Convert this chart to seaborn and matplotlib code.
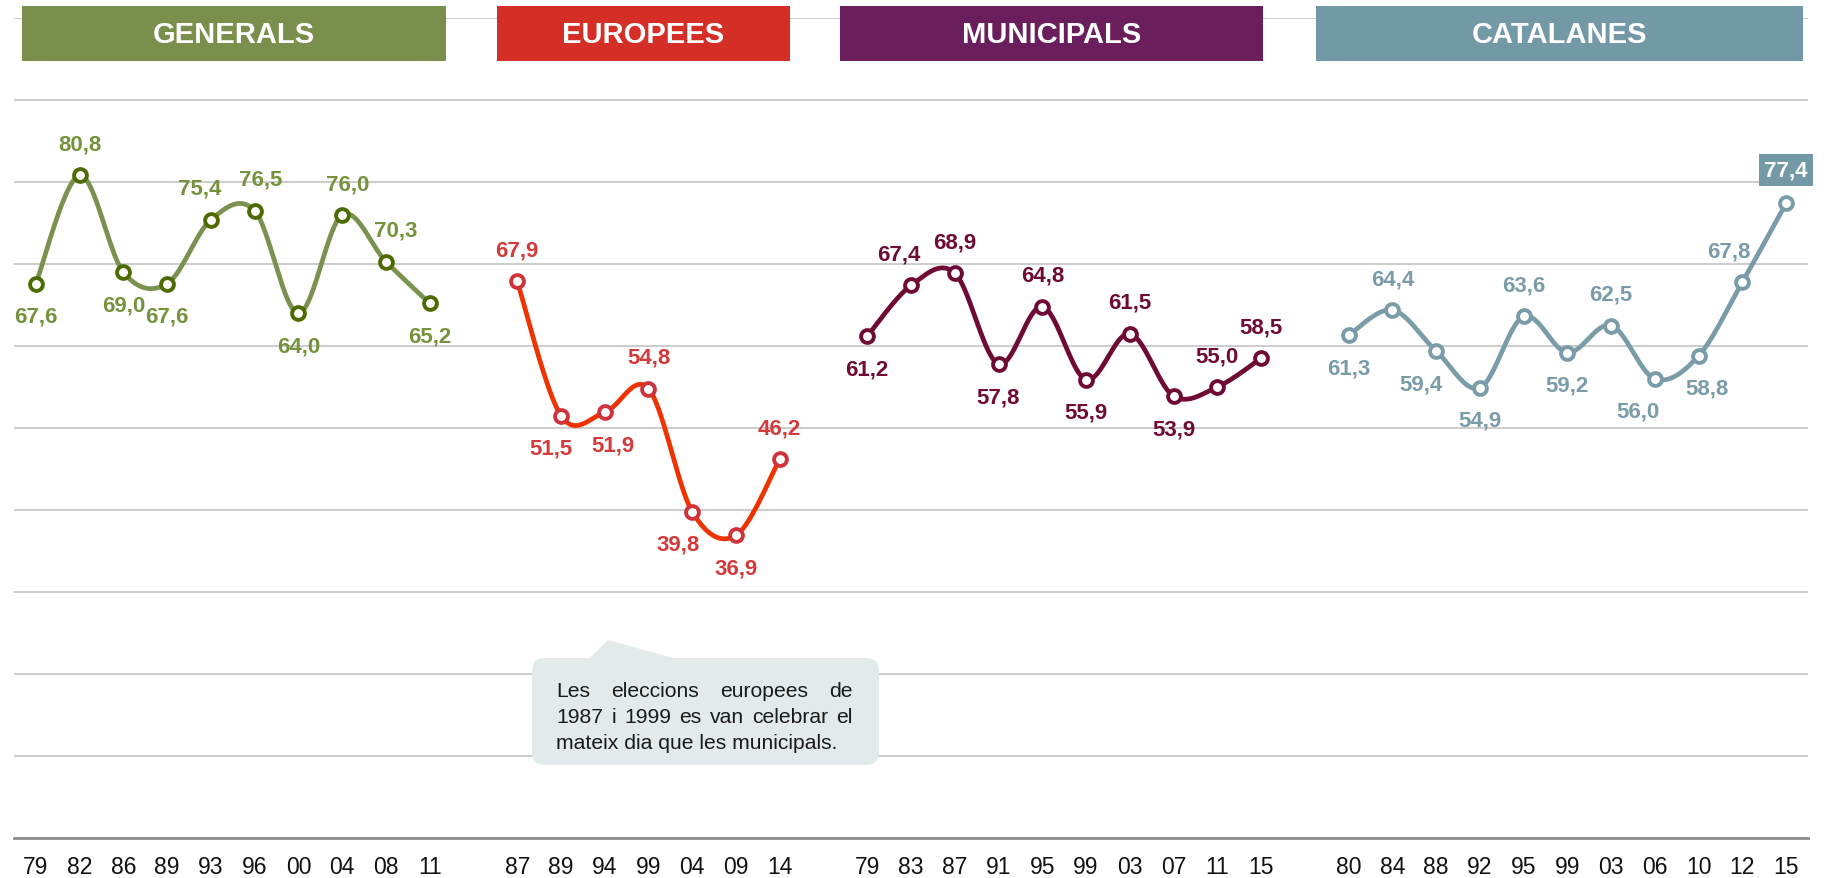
import numpy as np
import pandas as pd
import matplotlib
matplotlib.use("Agg")
import matplotlib.pyplot as plt
import matplotlib.transforms as mtransforms
from matplotlib.patches import Rectangle, FancyBboxPatch, Polygon
import seaborn as sns

# ---- data ----
groups = ["GENERALS", "EUROPEES", "MUNICIPALS", "CATALANES"]
generals_years = ["79", "82", "86", "89", "93", "96", "00", "04", "08", "11"]
generals_values = [67.6, 80.8, 69.0, 67.6, 75.4, 76.5, 64.0, 76.0, 70.3, 65.2]
europees_years = ["87", "89", "94", "99", "04", "09", "14"]
europees_values = [67.9, 51.5, 51.9, 54.8, 39.8, 36.9, 46.2]
municipals_years = ["79", "83", "87", "91", "95", "99", "03", "07", "11", "15"]
municipals_values = [61.2, 67.4, 68.9, 57.8, 64.8, 55.9, 61.5, 53.9, 55.0, 58.5]
catalanes_years = ["80", "84", "88", "92", "95", "99", "03", "06", "10", "12", "15"]
catalanes_values = [61.3, 64.4, 59.4, 54.9, 63.6, 59.2, 62.5, 56.0, 58.8, 67.8, 77.4]
note_lines = ["Les eleccions europees de",
              "1987 i 1999 es van celebrar el",
              "mateix dia que les municipals."]

# ---- styling / layout ----
header_colors = ["#7A8F4C", "#D42E27", "#6A1F5C", "#7499A6"]
line_colors = ["#7A9150", "#EE3300", "#6E0A33", "#7A9CA9"]
edge_colors = ["#4D6B00", "#D0343A", "#6E0A33", "#7A9CA9"]
label_colors = ["#76923C", "#D43A3A", "#6E0A33", "#7A9CA9"]
# header boxes in image pixels (x0, x1)
header_px = [(22, 446), (497, 790), (840, 1263), (1316, 1803)]
# label placement: (dx in points, +1 above / -1 below)
label_pos = [
    [(0, -1), (0, 1), (0, -1), (0, -1), (-8, 1), (4, 1), (0, -1), (4, 1), (7, 1), (0, -1)],
    [(0, 1), (-7, -1), (6, -1), (0, 1), (-10, -1), (0, -1), (0, 1)],
    [(0, -1), (-9, 1), (0, 1), (0, -1), (0, 1), (0, -1), (0, 1), (0, -1), (0, 1), (0, 1)],
    [(0, -1), (0, 1), (-11, -1), (0, -1), (0, 1), (0, -1), (0, 1), (-12, -1), (6, -1), (-10, 1), (0, 1)],
]

W, H = 1829, 879

sns.set_style("white")
plt.rcParams["font.family"] = ["Liberation Sans", "DejaVu Sans"]


def excel_smooth(x, y, n=40):
    pts = np.column_stack([x, y]).astype(float)
    out = []
    for i in range(len(pts) - 1):
        p0 = pts[i - 1] if i > 0 else pts[i]
        p1, p2 = pts[i], pts[i + 1]
        p3 = pts[i + 2] if i + 2 < len(pts) else pts[i + 1]
        c1 = p1 + (p2 - p0) / 6
        c2 = p2 - (p3 - p1) / 6
        t = np.linspace(0, 1, n)[:, None]
        seg = (1 - t) ** 3 * p1 + 3 * (1 - t) ** 2 * t * c1 + 3 * (1 - t) * t ** 2 * c2 + t ** 3 * p2
        out.append(seg if i == 0 else seg[1:])
    return np.vstack(out)


all_years = [generals_years, europees_years, municipals_years, catalanes_years]
all_values = [generals_values, europees_values, municipals_values, catalanes_values]

rows, curve_rows = [], []
start = 0
for g, yrs, vals in zip(groups, all_years, all_values):
    pos = np.arange(start, start + len(vals))
    for p, yr, v in zip(pos, yrs, vals):
        rows.append({"group": g, "pos": p, "year": yr, "value": v})
    sm = excel_smooth(pos, vals)
    for sx, sy in sm:
        curve_rows.append({"group": g, "x": sx, "y": sy})
    start += len(vals) + 1
df = pd.DataFrame(rows)
curves = pd.DataFrame(curve_rows)

fig = plt.figure(figsize=(W / 100, H / 100), dpi=100)
ax = fig.add_axes([14 / W, 40 / H, 1794 / W, 820 / H])
px = mtransforms.Affine2D().scale(1 / W, -1 / H).translate(0, 1) + fig.transFigure

sns.lineplot(data=curves, x="x", y="y", hue="group", palette=dict(zip(groups, line_colors)),
             sort=False, estimator=None, linewidth=3.4, legend=False, ax=ax, zorder=3)

for gi, g in enumerate(groups):
    sub = df[df.group == g]
    sns.scatterplot(data=sub, x="pos", y="value", color="white", edgecolor=edge_colors[gi],
                    linewidth=2.8, s=85, ax=ax, zorder=4, legend=False)
    for k, (p, v) in enumerate(zip(sub.pos, sub.value)):
        dx, side = label_pos[gi][k]
        txt = f"{v:.1f}".replace(".", ",")
        if g == "CATALANES" and k == len(sub) - 1:
            ax.annotate(txt, (p, v), xytext=(0, 24), textcoords="offset points",
                        ha="center", va="center", fontsize=16, fontweight="bold", color="white",
                        bbox=dict(boxstyle="square,pad=0.25", fc=header_colors[gi], ec="none"))
            continue
        dy = 22.5 if side > 0 else -23.5
        ax.annotate(txt, (p, v), xytext=(dx, dy), textcoords="offset points",
                    ha="center", va="center", fontsize=16, fontweight="bold",
                    color=label_colors[gi])

ax.set_xlim(-0.5, df.pos.max() + 0.5)
ax.set_ylim(0, 100)
ax.set_yticks(np.arange(0, 101, 10))
ax.set_yticklabels([])
ax.set_xticks(df.pos)
ax.set_xticklabels(df.year, fontsize=16.5, color="#111111")
ax.tick_params(axis="x", length=0, pad=12)
ax.tick_params(axis="y", length=0)
ax.yaxis.grid(True, color="#C8C8C8", linewidth=1.3)
ax.set_axisbelow(True)
ax.set_xlabel("")
ax.set_ylabel("")
for s in ["left", "right", "top"]:
    ax.spines[s].set_visible(False)
ax.spines["bottom"].set_color("#8C8C8C")
ax.spines["bottom"].set_linewidth(2)

# headers
for (x0, x1), g, c in zip(header_px, groups, header_colors):
    fig.add_artist(Rectangle((x0, 7), x1 - x0, 55, transform=px, fc=c, ec="none", zorder=5))
    fig.text((x0 + x1) / 2, 35, g, transform=px, ha="center", va="center",
             fontsize=21, fontweight="bold", color="white", zorder=6)

# note box with pointer
note_fc = "#E3EAEC"
fig.add_artist(FancyBboxPatch((532, 659), 347, 107, boxstyle="round,pad=0,rounding_size=13",
                              transform=px, fc=note_fc, ec="none", zorder=2))
fig.add_artist(Polygon([(589, 660), (608, 641), (677, 660)], closed=True,
                       transform=px, fc=note_fc, ec="none", zorder=2))

renderer = fig.canvas.get_renderer()
left, right = 556, 853
baselines = [697, 723, 749]
for li, (line, yb) in enumerate(zip(note_lines, baselines)):
    words = line.split(" ")
    if li == len(note_lines) - 1:
        fig.text(left, yb, line, transform=px, ha="left", va="baseline",
                 fontsize=15.2, color="#1A1A1A", zorder=3)
        continue
    texts = [fig.text(0, yb, w, transform=px, ha="left", va="baseline",
                      fontsize=15.2, color="#1A1A1A", zorder=3) for w in words]
    widths = [t.get_window_extent(renderer).width for t in texts]
    gap = (right - left - sum(widths)) / (len(words) - 1)
    x = left
    for t, w in zip(texts, widths):
        t.set_x(x)
        x += w + gap

fig.savefig("out.png", dpi=100)
